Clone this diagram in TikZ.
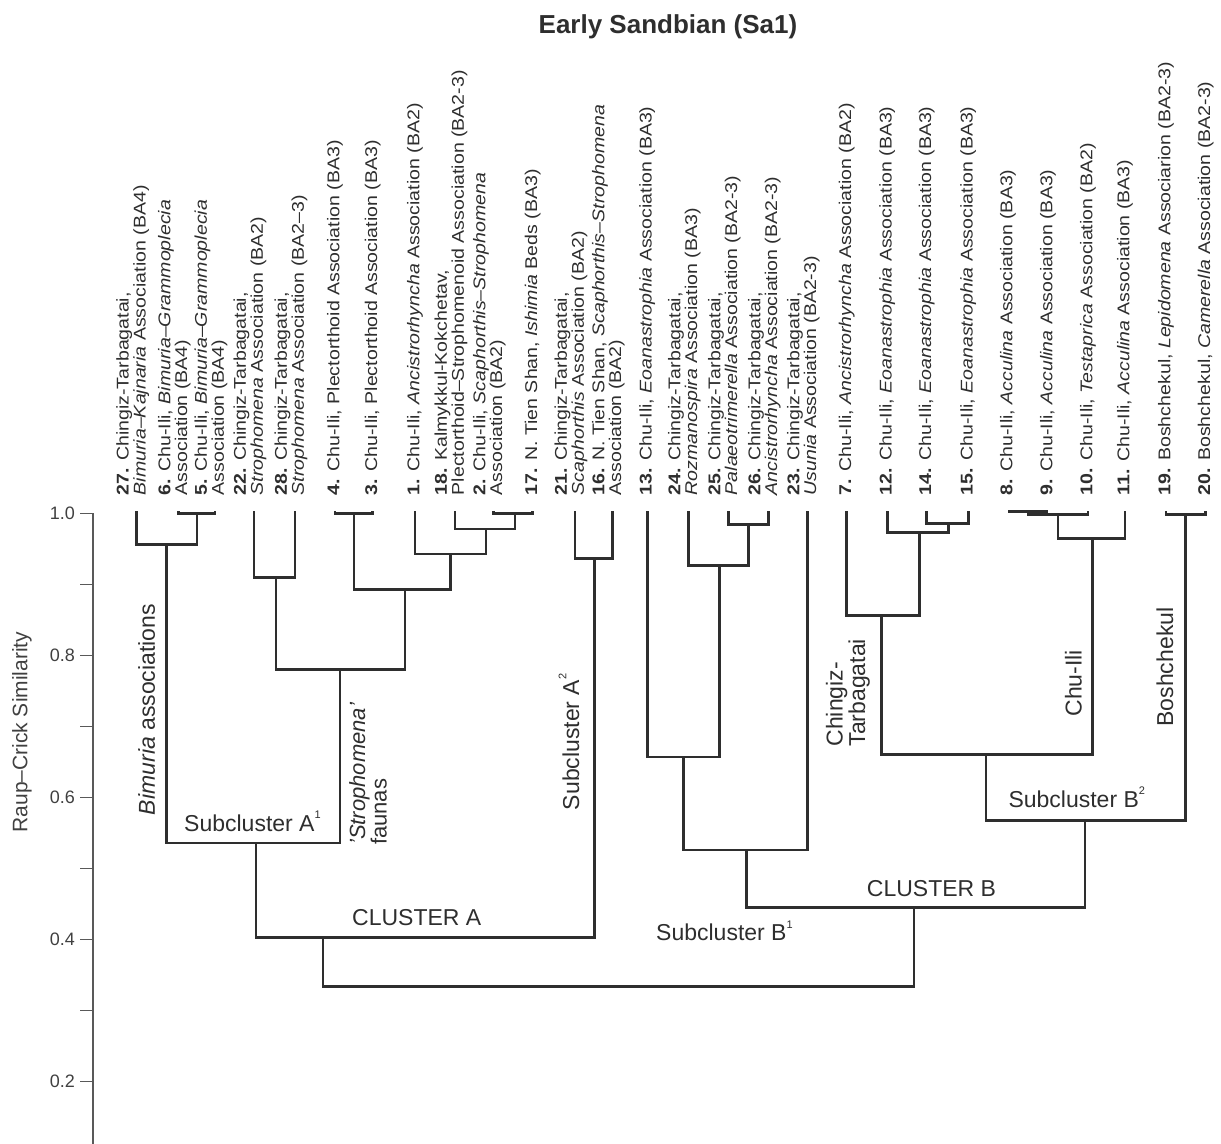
\documentclass[tikz,border=0pt]{standalone}
\usepackage{fontspec}
\setmainfont{Liberation Sans}
\newfontfamily\leaffont[FakeStretch=1.15]{Liberation Sans}
\definecolor{ink}{HTML}{2E2E2E}
\newcommand\grpsup[1]{\raisebox{1.05ex}{\fontsize{11}{11}\selectfont #1}}

\begin{document}
\begin{tikzpicture}[x=1pt, y=710pt,
    link/.style={draw=ink, line width=2.8pt},
    axisline/.style={draw=black!65, line width=1.8pt},
    leaf/.style={rotate=90, anchor=west, inner sep=0pt, align=left, text=ink, font=\leaffont\fontsize{17}{15}\selectfont},
    grp/.style={inner sep=0pt, text=ink, font=\fontsize{23}{21}\selectfont},
    ticklab/.style={anchor=east, inner sep=0pt, text=black!75, font=\fontsize{18}{20}\selectfont}]
    \useasboundingbox (0,0.112) rectangle (1221,1.7232);

    \node[anchor=base, text=ink, font=\bfseries\fontsize{26}{30}\selectfont] (title) at (668,1.6763) {Early Sandbian (Sa1)};

    % similarity axis
    \draw[axisline] (92.7,1) -- (92.7,0.112);
    \draw[axisline] (80,1) -- (92.7,1);
    \draw[axisline] (80,0.9) -- (92.7,0.9);
    \draw[axisline] (80,0.8) -- (92.7,0.8);
    \draw[axisline] (80,0.7) -- (92.7,0.7);
    \draw[axisline] (80,0.6) -- (92.7,0.6);
    \draw[axisline] (80,0.5) -- (92.7,0.5);
    \draw[axisline] (80,0.4) -- (92.7,0.4);
    \draw[axisline] (80,0.3) -- (92.7,0.3);
    \draw[axisline] (80,0.2) -- (92.7,0.2);
    \node[ticklab] (y10) at (75,1) {1.0};
    \node[ticklab] (y08) at (75,0.8) {0.8};
    \node[ticklab] (y06) at (75,0.6) {0.6};
    \node[ticklab] (y04) at (75,0.4) {0.4};
    \node[ticklab] (y02) at (75,0.2) {0.2};
    \node[rotate=90, text=black!75, font=\fontsize{21}{24}\selectfont] (ytitle) at (22,0.692) {Raup–Crick Similarity};

    % leaves
    \coordinate (l27) at (136.7,1.003);
    \coordinate (l6) at (178.3,1.003);
    \coordinate (l5) at (215,1.003);
    \coordinate (l22) at (254,1.003);
    \coordinate (l28) at (295,1.003);
    \coordinate (l4) at (335,1.003);
    \coordinate (l3) at (372.7,1.003);
    \coordinate (l1) at (415,1.003);
    \coordinate (l18) at (455,1.003);
    \coordinate (l2) at (493.3,1.003);
    \coordinate (l17) at (532.7,1.003);
    \coordinate (l21) at (575,1.003);
    \coordinate (l16) at (612.3,1.003);
    \coordinate (l13) at (647.3,1.003);
    \coordinate (l24) at (688.3,1.003);
    \coordinate (l25) at (728.3,1.003);
    \coordinate (l26) at (768.3,1.003);
    \coordinate (l23) at (807.3,1.003);
    \coordinate (l7) at (846.7,1.003);
    \coordinate (l12) at (887.3,1.003);
    \coordinate (l14) at (926.7,1.003);
    \coordinate (l15) at (968.3,1.003);
    \coordinate (l8) at (1008,1.003);
    \coordinate (l9) at (1048,1.003);
    \coordinate (l10) at (1088,1.003);
    \coordinate (l11) at (1125,1.003);
    \coordinate (l19) at (1166,1.003);
    \coordinate (l20) at (1205.7,1.003);

    \node[leaf] (t27) at ([xshift=-4pt,yshift=16pt]l27) {\textbf{27.} Chingiz-Tarbagatai,\\\textit{Bimuria–Kajnaria} Association (BA4)};
    \node[leaf] (t6) at ([xshift=-4pt,yshift=16pt]l6) {\textbf{6.} Chu-Ili, \textit{Bimuria–Grammoplecia}\\Association (BA4)};
    \node[leaf] (t5) at ([xshift=-4pt,yshift=16pt]l5) {\textbf{5.} Chu-Ili, \textit{Bimuria–Grammoplecia}\\Association (BA4)};
    \node[leaf] (t22) at ([xshift=-4pt,yshift=16pt]l22) {\textbf{22.} Chingiz-Tarbagatai,\\\textit{Strophomena} Association (BA2)};
    \node[leaf] (t28) at ([xshift=-4pt,yshift=16pt]l28) {\textbf{28.} Chingiz-Tarbagatai,\\\textit{Strophomena} Association (BA2–3)};
    \node[leaf] (t4) at ([yshift=16pt]l4) {\textbf{4.} Chu-Ili, Plectorthoid Association (BA3)};
    \node[leaf] (t3) at ([yshift=16pt]l3) {\textbf{3.} Chu-Ili, Plectorthoid Association (BA3)};
    \node[leaf] (t1) at ([yshift=16pt]l1) {\textbf{1.} Chu-Ili, \textit{Ancistrorhyncha} Association (BA2)};
    \node[leaf] (t18) at ([xshift=-4pt,yshift=16pt]l18) {\textbf{18.} Kalmykkul-Kokchetav,\\Plectorthoid–Strophomenoid Association (BA2-3)};
    \node[leaf] (t2) at ([xshift=-4pt,yshift=16pt]l2) {\textbf{2.} Chu-Ili, \textit{Scaphorthis–Strophomena}\\Association (BA2)};
    \node[leaf] (t17) at ([yshift=16pt]l17) {\textbf{17.} N. Tien Shan, \textit{Ishimia} Beds (BA3)};
    \node[leaf] (t21) at ([xshift=-4pt,yshift=16pt]l21) {\textbf{21.} Chingiz-Tarbagatai,\\\textit{Scaphorthis} Association (BA2)};
    \node[leaf] (t16) at ([xshift=-4pt,yshift=16pt]l16) {\textbf{16.} N. Tien Shan, \textit{Scaphorthis–Strophomena}\\Association (BA2)};
    \node[leaf] (t13) at ([yshift=16pt]l13) {\textbf{13.} Chu-Ili, \textit{Eoanastrophia} Association (BA3)};
    \node[leaf] (t24) at ([xshift=-4pt,yshift=16pt]l24) {\textbf{24.} Chingiz-Tarbagatai,\\\textit{Rozmanospira} Association (BA3)};
    \node[leaf] (t25) at ([xshift=-4pt,yshift=16pt]l25) {\textbf{25.} Chingiz-Tarbagatai,\\\textit{Palaeotrimerella} Association (BA2-3)};
    \node[leaf] (t26) at ([xshift=-4pt,yshift=16pt]l26) {\textbf{26.} Chingiz-Tarbagatai,\\\textit{Ancistrorhyncha} Association (BA2-3)};
    \node[leaf] (t23) at ([xshift=-4pt,yshift=16pt]l23) {\textbf{23.} Chingiz-Tarbagatai,\\\textit{Usunia} Association (BA2-3)};
    \node[leaf] (t7) at ([yshift=16pt]l7) {\textbf{7.} Chu-Ili, \textit{Ancistrorhyncha} Association (BA2)};
    \node[leaf] (t12) at ([yshift=16pt]l12) {\textbf{12.} Chu-Ili, \textit{Eoanastrophia} Association (BA3)};
    \node[leaf] (t14) at ([yshift=16pt]l14) {\textbf{14.} Chu-Ili, \textit{Eoanastrophia} Association (BA3)};
    \node[leaf] (t15) at ([yshift=16pt]l15) {\textbf{15.} Chu-Ili, \textit{Eoanastrophia} Association (BA3)};
    \node[leaf] (t8) at ([yshift=16pt]l8) {\textbf{8.} Chu-Ili, \textit{Acculina} Association (BA3)};
    \node[leaf] (t9) at ([yshift=16pt]l9) {\textbf{9.} Chu-Ili, \textit{Acculina} Association (BA3)};
    \node[leaf] (t10) at ([yshift=16pt]l10) {\textbf{10.} Chu-Ili, \textit{Testaprica} Association (BA2)};
    \node[leaf] (t11) at ([yshift=16pt]l11) {\textbf{11.} Chu-Ili, \textit{Acculina} Association (BA3)};
    \node[leaf] (t19) at ([yshift=16pt]l19) {\textbf{19.} Boshchekul, \textit{Lepidomena} Associarion (BA2-3)};
    \node[leaf] (t20) at ([yshift=16pt]l20) {\textbf{20.} Boshchekul, \textit{Camerella} Association (BA2-3)};

    % cluster A
    \coordinate (n65) at (197,1.0);
    \coordinate (nBim) at (166.7,0.956);
    \coordinate (n2228) at (276,0.91);
    \coordinate (n43) at (354,1.0);
    \coordinate (n217) at (515,1.0);
    \coordinate (n18) at (486,0.978);
    \coordinate (n1) at (450.7,0.943);
    \coordinate (n4) at (405,0.893);
    \coordinate (n22) at (340,0.78);
    \coordinate (nA1) at (256,0.536);
    \coordinate (n2116) at (594.3,0.937);
    \coordinate (nA) at (323,0.403);
    \draw[link] (l6) |- (n65) -| (l5);
    \draw[link] (l27) |- (nBim) -| (n65);
    \draw[link] (l22) |- (n2228) -| (l28);
    \draw[link] (l4) |- (n43) -| (l3);
    \draw[link] (l2) |- (n217) -| (l17);
    \draw[link] (l18) |- (n18) -| (n217);
    \draw[link] (l1) |- (n1) -| (n18);
    \draw[link] (n43) |- (n4) -| (n1);
    \draw[link] (n2228) |- (n22) -| (n4);
    \draw[link] (nBim) |- (nA1) -| (n22);
    \draw[link] (l21) |- (n2116) -| (l16);
    \draw[link] (nA1) |- (nA) -| (n2116);

    % cluster B
    \coordinate (n2526) at (748.3,0.985);
    \coordinate (n24) at (719.3,0.927);
    \coordinate (n13) at (683.3,0.657);
    \coordinate (nB1) at (746.7,0.526);
    \coordinate (n1415) at (948.3,0.986);
    \coordinate (n12) at (919.3,0.973);
    \coordinate (n7) at (881.7,0.856);
    \coordinate (n89) at (1028,1.003);
    \coordinate (n8910) at (1058,0.998);
    \coordinate (n811) at (1092.3,0.965);
    \coordinate (nCT) at (986,0.66);
    \coordinate (n1920) at (1185.7,0.999);
    \coordinate (nB2) at (1085,0.568);
    \coordinate (nB) at (914,0.445);
    \coordinate (nroot) at (618.5,0.334);
    \draw[link] (l25) |- (n2526) -| (l26);
    \draw[link] (l24) |- (n24) -| (n2526);
    \draw[link] (l13) |- (n13) -| (n24);
    \draw[link] (n13) |- (nB1) -| (l23);
    \draw[link] (l14) |- (n1415) -| (l15);
    \draw[link] (l12) |- (n12) -| (n1415);
    \draw[link] (l7) |- (n7) -| (n12);
    \draw[link] (l8) |- (n89) -| (l9);
    \draw[link] (n89) |- (n8910) -| (l10);
    \draw[link] (n8910) |- (n811) -| (l11);
    \draw[link] (n7) |- (nCT) -| (n811);
    \draw[link] (l19) |- (n1920) -| (l20);
    \draw[link] (nCT) |- (nB2) -| (n1920);
    \draw[link] (nB1) |- (nB) -| (nB2);
    \draw[link] (nA) |- (nroot) -| (nB);

    % group labels
    \node[grp, rotate=90, anchor=west] (gBim) at (146.7,0.575) {\textit{Bimuria} associations};
    \node[grp, anchor=base west] (gA1) at (184,0.552) {Subcluster A\grpsup{1}};
    \node[grp, rotate=90, anchor=west, align=left, font=\fontsize{22}{17}\selectfont] (gStr) at (368,0.533) {\textit{'Strophomena'}\\faunas};
    \node[grp, rotate=90, anchor=west] (gA2) at (569,0.582) {Subcluster A\grpsup{2}};
    \node[grp, anchor=base west] (gclA) at (352,0.419) {CLUSTER A};
    \node[grp, anchor=base west] (gB1) at (656,0.398) {Subcluster B\grpsup{1}};
    \node[grp, anchor=base west] (gclB) at (866.7,0.4603) {CLUSTER B};
    \node[grp, rotate=90, anchor=west, align=left] (gCT) at (848,0.6716) {Chingiz-\\Tarbagatai};
    \node[grp, rotate=90, anchor=west] (gCI) at (1073.3,0.7138) {Chu-Ili};
    \node[grp, rotate=90, anchor=west] (gBo) at (1165,0.6997) {Boshchekul};
    \node[grp, anchor=base west] (gB2) at (1008.3,0.5862) {Subcluster B\grpsup{2}};
\end{tikzpicture}
\end{document}
